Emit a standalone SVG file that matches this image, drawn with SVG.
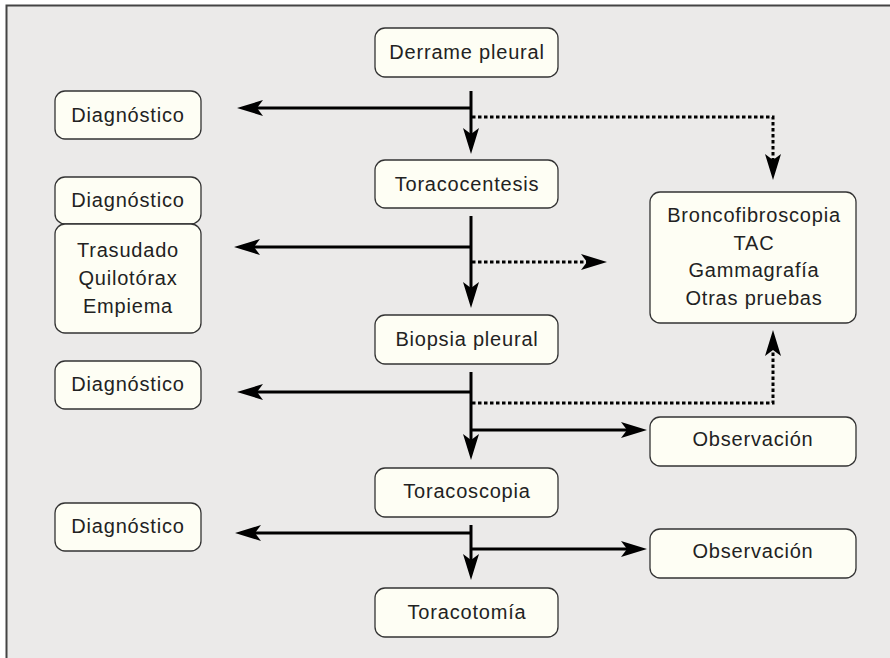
<svg xmlns="http://www.w3.org/2000/svg" width="890" height="658" viewBox="0 0 890 658">
<style>
.box{fill:#fefef4;stroke:#333;stroke-width:1.3}
.t{font-family:"Liberation Sans",Arial,sans-serif;font-size:20px;letter-spacing:0.8px;fill:#222;text-anchor:middle}
.s{fill:none;stroke:#000;stroke-width:3}
.d{fill:none;stroke:#000;stroke-width:3;stroke-dasharray:3.5 2.5}
</style>
<defs>
<marker id="ah" markerUnits="userSpaceOnUse" markerWidth="30" markerHeight="20" viewBox="0 -10 30 20" refX="16" refY="0" orient="auto">
<path d="M26,0 L0,-8 L6,0 L0,8 Z" fill="#000"/>
</marker>
</defs>
<rect x="0" y="0" width="890" height="658" fill="#fff"/>
<rect x="6.5" y="5.5" width="900" height="670" fill="#ebeae9" stroke="#444" stroke-width="2"/>

<g id="connectors">
<line class="s" x1="471" y1="91" x2="471" y2="144" marker-end="url(#ah)"/>
<line class="s" x1="471" y1="108" x2="247" y2="108" marker-end="url(#ah)"/>
<polyline class="d" points="472,117 773,117 773,170" marker-end="url(#ah)"/>

<line class="s" x1="471" y1="216" x2="471" y2="298" marker-end="url(#ah)"/>
<line class="s" x1="471" y1="247" x2="244" y2="247" marker-end="url(#ah)"/>
<line class="d" x1="472" y1="262" x2="597" y2="262" marker-end="url(#ah)"/>

<line class="s" x1="471" y1="372" x2="471" y2="450" marker-end="url(#ah)"/>
<line class="s" x1="471" y1="392" x2="247" y2="392" marker-end="url(#ah)"/>
<polyline class="d" points="472,403 773,403 773,340" marker-end="url(#ah)"/>
<line class="s" x1="471" y1="430" x2="637" y2="430" marker-end="url(#ah)"/>

<line class="s" x1="471" y1="525" x2="471" y2="570" marker-end="url(#ah)"/>
<line class="s" x1="471" y1="533" x2="245" y2="533" marker-end="url(#ah)"/>
<line class="s" x1="471" y1="549" x2="637" y2="549" marker-end="url(#ah)"/>
</g>

<g id="derrame"><rect class="box" x="375" y="28" width="183" height="49" rx="10"/><text class="t" x="467" y="59">Derrame pleural</text></g>
<g id="toracocentesis"><rect class="box" x="375" y="160" width="183" height="48" rx="10"/><text class="t" x="467" y="191">Toracocentesis</text></g>
<g id="biopsia"><rect class="box" x="375" y="315" width="183" height="49" rx="10"/><text class="t" x="467" y="346">Biopsia pleural</text></g>
<g id="toracoscopia"><rect class="box" x="375" y="468" width="183" height="49" rx="10"/><text class="t" x="467" y="498">Toracoscopia</text></g>
<g id="toracotomia"><rect class="box" x="375" y="588" width="183" height="49" rx="10"/><text class="t" x="467" y="619">Toracotomía</text></g>

<g id="diag1"><rect class="box" x="55" y="91" width="146" height="48" rx="10"/><text class="t" x="128" y="122">Diagnóstico</text></g>
<g id="diag2"><rect class="box" x="55" y="177" width="146" height="47" rx="10"/><text class="t" x="128" y="207">Diagnóstico</text></g>
<g id="trasudado"><rect class="box" x="55" y="224" width="146" height="109" rx="10"/><text class="t" x="128" y="257">Trasudado</text><text class="t" x="128" y="285">Quilotórax</text><text class="t" x="128" y="313">Empiema</text></g>
<g id="diag3"><rect class="box" x="55" y="361" width="146" height="48" rx="10"/><text class="t" x="128" y="391">Diagnóstico</text></g>
<g id="diag4"><rect class="box" x="55" y="503" width="146" height="48" rx="10"/><text class="t" x="128" y="533">Diagnóstico</text></g>

<g id="pruebas"><rect class="box" x="650" y="192" width="206" height="131" rx="10"/><text class="t" x="754" y="222">Broncofibroscopia</text><text class="t" x="754" y="250">TAC</text><text class="t" x="754" y="277">Gammagrafía</text><text class="t" x="754" y="305">Otras pruebas</text></g>
<g id="obs1"><rect class="box" x="650" y="417" width="206" height="49" rx="10"/><text class="t" x="753" y="446">Observación</text></g>
<g id="obs2"><rect class="box" x="650" y="529" width="206" height="49" rx="10"/><text class="t" x="753" y="558">Observación</text></g>
</svg>
